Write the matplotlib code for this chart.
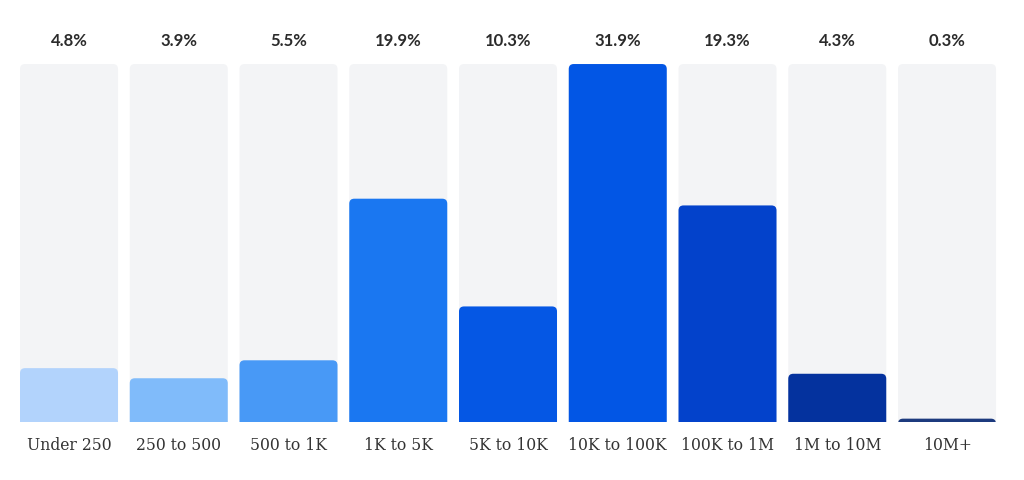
import matplotlib
matplotlib.use("Agg")
import matplotlib.pyplot as plt
from matplotlib.patches import FancyBboxPatch
from matplotlib.transforms import blended_transform_factory

# audience size buckets and share of accounts
categories = ['Under 250', '250 to 500', '500 to 1K', '1K to 5K', '5K to 10K',
              '10K to 100K', '100K to 1M', '1M to 10M', '10M+']
shares = [4.8, 3.9, 5.5, 19.9, 10.3, 31.9, 19.3, 4.3, 0.3]
colors = ['#b2d3fc', '#80bbfa', '#4899f6', '#1a77f1', '#0557e4',
          '#0256e5', '#0342cb', '#04329e', '#1c3a7e']

ymax = max(shares)
width = 0.893

fig = plt.figure(figsize=(10.24, 4.8), dpi=100)
ax = fig.add_axes([0.0138, 0.1208, 0.9646, 0.7458])
ax.set_xlim(-0.5, len(categories) - 0.5)
ax.set_ylim(0, ymax)
ax.axis('off')

# rounding: ~5px in both directions
px_x = 0.9646 * 1024 / len(categories)
px_y = 0.7458 * 480 / ymax
r = 5 / px_x
aspect = px_x / px_y

for i, (cat, val, col) in enumerate(zip(categories, shares, colors)):
    # background track
    bg = FancyBboxPatch((i - width / 2, -2), width, ymax + 2,
                        boxstyle='round,pad=0,rounding_size=%f' % r,
                        mutation_aspect=aspect, fc='#f3f4f6', ec='none')
    ax.add_patch(bg)
    bar = FancyBboxPatch((i - width / 2, -2), width, val + 2,
                         boxstyle='round,pad=0,rounding_size=%f' % r,
                         mutation_aspect=aspect, fc=col, ec='none')
    ax.add_patch(bar)

trans = blended_transform_factory(ax.transData, fig.transFigure)
for i, (cat, val) in enumerate(zip(categories, shares)):
    ax.text(i, 0.9146, '%.1f%%' % val, transform=trans, ha='center', va='center',
            fontsize=12, fontweight='bold', color='#2b2b2b', family='Lato')
    ax.text(i, 0.0729, cat, transform=trans, ha='center', va='center',
            fontsize=12.5, color='#333333', family='DejaVu Serif',
            fontstretch='condensed')

fig.savefig('out.png', dpi=100, facecolor='white')
